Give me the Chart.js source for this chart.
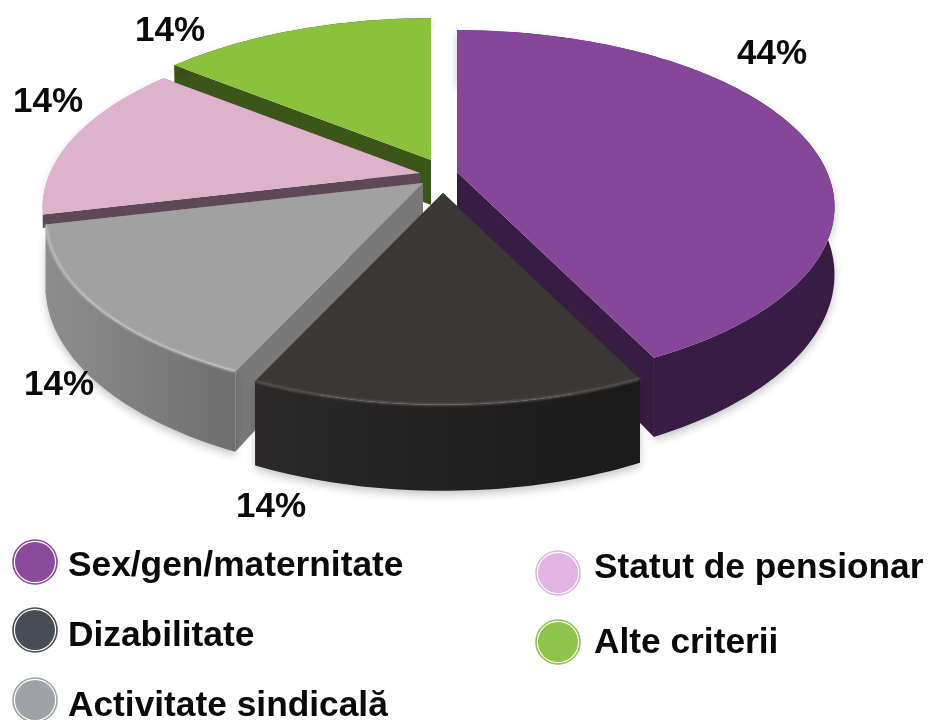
<!DOCTYPE html>
<html><head><meta charset="utf-8">
<style>html,body{margin:0;padding:0;background:#fff}#wrap{width:930px;height:720px;position:relative}</style>
<script src="https://cdn.jsdelivr.net/npm/chart.js@4"></script>
</head><body><div id="wrap"><canvas id="c" width="930" height="720"></canvas></div>
<script>
const categories = ["Sex/gen/maternitate","Dizabilitate","Activitate sindicală","Statut de pensionar","Alte criterii"];
const values = [44,14,14,14,14];
const topColors = ["#86469a","#3b3736","#a1a1a1","#deb2cc","#8bc13d"];
const cutColors = ["#371c44","#1c1c1c","#787878","#5e4858","#3c5518"];
const wallColorsA = ["#371c44","#2a2828","#8e8e8e","#c9a0b8","#3c5518"];
const wallColorsB = ["#371c44","#1a1a1a","#6e6e6e","#c9a0b8","#3c5518"];
const bevelColors = [null,"rgba(120,115,112,.7)","rgba(225,225,225,.7)",null,null];
const legendColors = ["#8a4a9c","#474c55","#9fa2a6","#e3b4e3","#8fc44c"];
const apexes = [[457,172],[443,193],[423,183],[420,173],[431,160]];
const wallDepths = [65,69,66,8,8];
const cutDepths = [65,69,66,13,45];
const drawOrder = [4,3,0,2,1];
const labelPos = [[737,64],[236,517],[24,395],[13,112],[135,41]];
const legendPos = [[35,562,68,576],[35,630,68,646],[35,700,68,716],[558,573,594,578],[558,642,594,653]];

const TILT = 0.459, PERSP = -0.198, WARP = 4.5*Math.PI/180;
function project(el, apex, theta, r){
  const t = theta - WARP*Math.pow(Math.sin(theta/2),2);
  const u = Math.sin(t)*r, v = -Math.cos(t)*r, w = 1+PERSP*v;
  const R = el.outerRadius;
  return {x:apex[0]+R*u/w, y:apex[1]+R*TILT*v/w, w};
}
function rim(el, apex){
  const a0 = el.startAngle+Math.PI/2, a1 = el.endAngle+Math.PI/2, n = Math.ceil((a1-a0)/0.02), pts=[];
  for(let i=0;i<=n;i++) pts.push(project(el,apex,a0+(a1-a0)*i/n,1));
  return pts;
}
function poly(ctx, pts){ ctx.beginPath(); pts.forEach((p,i)=>i?ctx.lineTo(p.x,p.y):ctx.moveTo(p.x,p.y)); ctx.closePath(); }
const down = (p,d)=>({x:p.x,y:p.y+d/p.w});

const solidPie = {
  id:'solidPie',
  beforeDatasetsDraw(chart){
    const ctx = chart.ctx, arcs = chart.getDatasetMeta(0).data;
    drawOrder.forEach(i=>{
      const el = arcs[i], A = {x:apexes[i][0],y:apexes[i][1],w:1}, pts = rim(el,apexes[i]);
      const first = pts[0], last = pts[pts.length-1];
      ctx.save();
      // cut faces
      ctx.fillStyle=cutColors[i];
      const endDepth = Math.min(cutDepths[i],wallDepths[i]);
      poly(ctx,[A,first,down(first,cutDepths[i]),down(A,cutDepths[i])]); ctx.fill();
      poly(ctx,[A,last,down(last,endDepth),down(A,endDepth)]); ctx.fill();
      // soft ground shadow + outer wall
      const wall = pts.concat(pts.slice().reverse().map(p=>down(p,wallDepths[i])));
      const xs = pts.map(p=>p.x), g = ctx.createLinearGradient(Math.min(...xs),0,Math.max(...xs),0);
      g.addColorStop(0,wallColorsA[i]); g.addColorStop(1,wallColorsB[i]);
      ctx.shadowColor='rgba(0,0,0,.22)'; ctx.shadowBlur=9; ctx.shadowOffsetY=4;
      ctx.fillStyle=g; poly(ctx,wall); ctx.fill();
      ctx.shadowColor='transparent';
      // top
      ctx.fillStyle=topColors[i];
      poly(ctx,[A].concat(pts)); ctx.fill();
      if(bevelColors[i]){
        ctx.strokeStyle=bevelColors[i]; ctx.lineWidth=2; ctx.filter='blur(1px)';
        ctx.beginPath(); pts.forEach((p,k)=>k?ctx.lineTo(p.x,p.y):ctx.moveTo(p.x,p.y)); ctx.stroke();
        ctx.filter='none';
      }
      ctx.restore();
    });
    return false;
  },
  afterDraw(chart){
    const ctx = chart.ctx;
    ctx.save();
    ctx.textBaseline='alphabetic'; ctx.textAlign='left'; ctx.fillStyle='#0a0a0a';
    ctx.font='bold 35px "Liberation Sans", Arial, sans-serif';
    values.forEach((v,i)=>ctx.fillText(v+'%',labelPos[i][0],labelPos[i][1]));
    ctx.font='bold 35.3px "Liberation Sans", Arial, sans-serif';
    categories.forEach((c,i)=>{
      const [cx,cy,tx,ty]=legendPos[i];
      ctx.fillStyle=legendColors[i];
      ctx.beginPath(); ctx.arc(cx,cy,20,0,Math.PI*2); ctx.fill();
      ctx.strokeStyle=legendColors[i]; ctx.lineWidth=1.6;
      ctx.beginPath(); ctx.arc(cx,cy,22,0,Math.PI*2); ctx.stroke();
      ctx.fillStyle='#0a0a0a'; ctx.fillText(c,tx,ty);
    });
    ctx.restore();
  }
};

new Chart(document.getElementById('c'),{
  type:'pie',
  data:{labels:categories,datasets:[{data:values,backgroundColor:topColors,borderWidth:0}]},
  options:{responsive:false,animation:false,radius:370,
    plugins:{legend:{display:false},tooltip:{enabled:false}}},
  plugins:[solidPie]
});
</script></body></html>
